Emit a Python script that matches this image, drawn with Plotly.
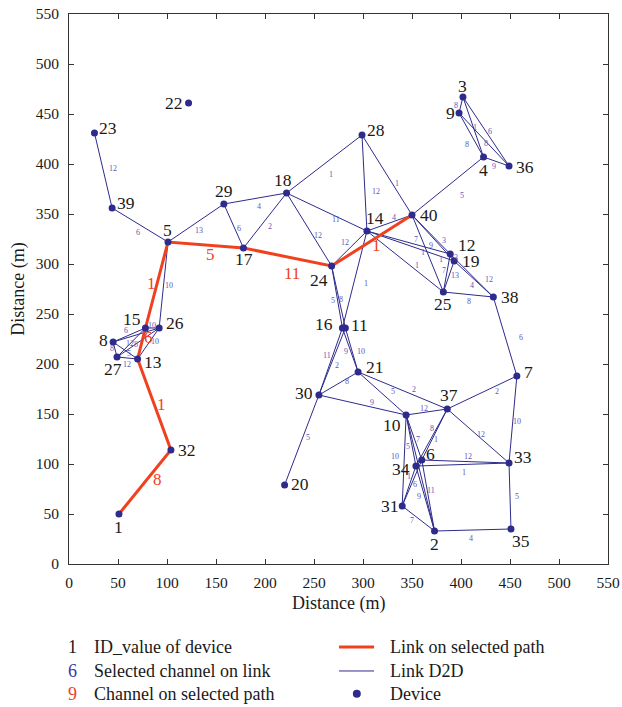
import plotly.graph_objects as go

# ---------------- data ----------------
node_ids = [1, 2, 3, 4, 5, 6, 7, 8, 9, 10, 11, 12, 13, 14, 15, 16, 17, 18, 19, 20,
            21, 22, 23, 24, 25, 26, 27, 28, 29, 30, 31, 32, 33, 34, 35, 36, 37, 38, 39, 40]
node_x = [51, 373, 402, 423, 101, 360, 457, 45, 398, 344, 282, 389, 70, 304, 78, 279, 178, 222, 393, 220,
          295, 122, 26, 268, 382, 92, 49, 299, 158, 255, 340, 104, 449, 354, 451, 449, 386, 433, 44, 350]
node_y = [50, 33, 467, 407, 322, 104, 188, 222, 451, 149, 236, 310, 205, 333, 236, 236, 316, 371, 303, 79,
          192, 461, 431, 298, 272, 236, 207, 429, 360, 169, 58, 114, 101, 98, 35, 398, 155, 267, 356, 349]

# D2D links: source, target, channel
link_src = [23, 39, 5, 29, 29, 17, 18, 18, 18, 28, 28, 14, 24, 40, 14, 14, 14, 40, 40, 40,
            25, 25, 12, 12, 19, 25, 38, 3, 3, 3, 9, 9, 4, 5, 8, 8, 8, 8, 27, 27,
            27, 13, 15, 24, 24, 14, 16, 11, 16, 11, 30, 30, 30, 21, 21, 10, 37, 7, 37, 6,
            34, 33, 2, 31, 10, 10, 10, 37, 37, 10, 6, 34, 6, 34, 34]
link_dst = [39, 5, 29, 17, 18, 18, 28, 14, 24, 14, 40, 40, 14, 4, 12, 19, 25, 12, 19, 25,
            12, 19, 19, 38, 38, 38, 7, 9, 4, 36, 4, 36, 36, 26, 15, 26, 27, 13, 13, 15,
            26, 26, 26, 16, 11, 16, 30, 30, 21, 21, 21, 10, 20, 10, 37, 37, 7, 33, 33, 33,
            33, 35, 35, 2, 31, 34, 6, 6, 34, 2, 2, 2, 31, 31, 6]
link_channel = ["12", "6", "13", "6", "4", "2", "1", "11", "12", "12", "1", "4", "12", "5", "7", "1", "1", "3", "9", "1",
                "7", "13", "3", "12", "4", "8", "6", "8", "1", "6", "8", "8", "9", "10", "6", "12", "8", "5", "12", "",
                "8", "10", "10", "5", "8", "1", "11", "2", "9", "10", "8", "9", "5", "5", "2", "12", "2", "10", "12", "12",
                "1", "5", "4", "7", "10", "5", "7", "8", "1", "", "11", "9", "6", "1", ""]

# selected path and channels on it
path_nodes = [1, 32, 13, 15, 5, 17, 24, 40]
path_channel = ["8", "1", "6", "1", "5", "11", "1"]

# legend texts
legend_left = [("1", "ID_value of device"), ("6", "Selected channel on link"), ("9", "Channel on selected path")]
legend_right = ["Link on selected path", "Link D2D", "Device"]

# axis ticks
tick_vals = list(range(0, 551, 50))

# ---------------- styles ----------------
FONT = "Liberation Serif, Times New Roman, serif"
BLUE = "#2e2b8c"
LBL_BLUE = "#5d58b5"
RED = "#f0401e"
TXT = "#1a1a1a"

# node label shifts in px (x right, y up)
node_label_shift = {
    1: (0, -13), 2: (0, -13), 3: (0, 11), 4: (0, -13), 5: (0, 12), 6: (9, 6), 7: (12, 4),
    8: (-10, 2), 9: (-9, 0), 10: (-14, -10), 11: (14, 3), 12: (17, 9), 13: (15, -3),
    14: (8, 13), 15: (-13, 9), 16: (-18, 4), 17: (1, -11), 18: (-4, 13), 19: (17, 0),
    20: (15, 1), 21: (17, 5), 22: (-15, 0), 23: (14, 5), 24: (-13, -14), 25: (0, -12),
    26: (16, 5), 27: (-4, -12), 28: (14, 5), 29: (0, 13), 30: (-15, 2), 31: (-12, 0),
    32: (16, 0), 33: (14, 6), 34: (-15, -3), 35: (10, -12), 36: (16, -1), 37: (2, 14),
    38: (17, 0), 39: (14, 5), 40: (17, 0),
}

# channel label shifts in px (x right, y down) relative to link midpoint
link_label_shift = {
    (23, 39): (10, -2), (39, 5): (-2, 7), (5, 29): (3, 7), (29, 17): (5, 2), (29, 18): (4, 8),
    (17, 18): (5, 6), (18, 28): (7, 10), (18, 14): (9, 7), (18, 24): (9, 6), (28, 14): (12, 8),
    (28, 40): (10, 8), (14, 40): (5, -6), (24, 14): (-4, -6), (40, 4): (14, 9), (14, 12): (7, -3),
    (14, 19): (12, 6), (14, 25): (12, 4), (40, 12): (13, 6), (40, 19): (-2, 7), (40, 25): (13, 6),
    (25, 12): (-3, -3), (25, 19): (6, -1), (12, 19): (4, 0), (12, 38): (17, 4), (19, 38): (-2, 6),
    (25, 38): (1, 7), (38, 7): (16, 1), (3, 9): (-5, 0), (3, 4): (2, 0), (3, 36): (4, 0),
    (9, 4): (-4, 9), (9, 36): (2, 4), (4, 36): (-2, 5), (5, 26): (5, 0), (8, 15): (-3, -5),
    (8, 26): (-6, 8), (8, 27): (-3, -1), (8, 13): (4, 3), (27, 13): (0, 6), (27, 26): (-2, 2),
    (13, 26): (7, -2), (15, 26): (0, -3), (24, 16): (-4, 3), (24, 11): (2, 2), (14, 16): (11, 4),
    (16, 30): (-4, -6), (11, 30): (5, 4), (16, 21): (-4, 1), (11, 21): (9, 1), (30, 21): (8, -2),
    (30, 10): (9, -3), (30, 20): (6, -3), (21, 10): (11, -2), (21, 37): (11, -1), (10, 37): (-3, -4),
    (37, 7): (15, -1), (7, 33): (4, 2), (37, 33): (3, -2), (6, 33): (3, -5), (34, 33): (2, 8),
    (33, 35): (7, 0), (2, 35): (-2, 8), (31, 2): (-6, 2), (10, 31): (-9, -4), (10, 34): (-3, 6),
    (10, 6): (4, 2), (37, 6): (-3, -6), (37, 34): (4, 2), (6, 2): (3, -5), (34, 2): (-6, -2),
    (6, 31): (3, 1), (34, 31): (0, -10),
}
path_label_shift = [(13, -3), (7, 0), (7, -6), (-5, -2), (5, 9), (4, 16), (5, 5)]

pos = {n: (x, y) for n, x, y in zip(node_ids, node_x, node_y)}

fig = go.Figure()

# blue links
lx, ly = [], []
for a, b in zip(link_src, link_dst):
    lx += [pos[a][0], pos[b][0], None]
    ly += [pos[a][1], pos[b][1], None]
fig.add_trace(go.Scatter(x=lx, y=ly, mode="lines", line=dict(color=BLUE, width=1),
                         hoverinfo="skip", showlegend=False))

# red path
px_ = [pos[n][0] for n in path_nodes]
py_ = [pos[n][1] for n in path_nodes]
fig.add_trace(go.Scatter(x=px_, y=py_, mode="lines", line=dict(color=RED, width=3),
                         hoverinfo="skip", showlegend=False))

# devices
fig.add_trace(go.Scatter(x=node_x, y=node_y, mode="markers",
                         marker=dict(color=BLUE, size=7, line=dict(width=0)),
                         text=[str(n) for n in node_ids], hoverinfo="text", showlegend=False))

ann = []
# node labels
for n, x, y in zip(node_ids, node_x, node_y):
    sx, sy = node_label_shift.get(n, (0, 12))
    ann.append(dict(x=x, y=y, xref="x", yref="y", text=str(n), showarrow=False,
                    xshift=sx, yshift=sy, font=dict(family=FONT, size=17.5, color=TXT)))

# channel labels on links
for a, b, c in zip(link_src, link_dst, link_channel):
    if not c:
        continue
    mx = (pos[a][0] + pos[b][0]) / 2
    my = (pos[a][1] + pos[b][1]) / 2
    dx, dy = link_label_shift.get((a, b), (5, 6))
    ann.append(dict(x=mx, y=my, xref="x", yref="y", text=c, showarrow=False,
                    xshift=dx, yshift=-dy, font=dict(family=FONT, size=8, color=LBL_BLUE)))

# channel labels on path
for i, c in enumerate(path_channel):
    a, b = path_nodes[i], path_nodes[i + 1]
    mx = (pos[a][0] + pos[b][0]) / 2
    my = (pos[a][1] + pos[b][1]) / 2
    dx, dy = path_label_shift[i]
    ann.append(dict(x=mx, y=my, xref="x", yref="y", text=c, showarrow=False,
                    xshift=dx, yshift=-dy, font=dict(family=FONT, size=17, color=RED)))

# axis titles
ann.append(dict(x=0.5, y=-0.072, xref="paper", yref="paper", text="Distance (m)", showarrow=False,
                yanchor="middle", font=dict(family=FONT, size=18, color=TXT)))
ann.append(dict(x=-0.095, y=0.5, xref="paper", yref="paper", text="Distance (m)", showarrow=False,
                textangle=-90, xanchor="center", font=dict(family=FONT, size=18, color=TXT)))

# legend
rows_y = [-0.151, -0.1945, -0.236]
sym_col = [TXT, "#3b36a0", RED]
shapes = []
for i, (sym, txt) in enumerate(legend_left):
    ann.append(dict(x=0.0074, y=rows_y[i], xref="paper", yref="paper", text=sym, showarrow=False,
                    xanchor="center", yanchor="middle", font=dict(family=FONT, size=18, color=sym_col[i])))
    ann.append(dict(x=0.0427, y=rows_y[i], xref="paper", yref="paper", text=txt, showarrow=False,
                    xanchor="left", yanchor="middle", font=dict(family=FONT, size=18, color=TXT)))
for i, txt in enumerate(legend_right):
    ann.append(dict(x=0.592, y=rows_y[i], xref="paper", yref="paper", text=txt, showarrow=False,
                    xanchor="left", yanchor="middle", font=dict(family=FONT, size=18, color=TXT)))
shapes.append(dict(type="line", xref="paper", yref="paper", x0=0.501, x1=0.566,
                   y0=rows_y[0], y1=rows_y[0], line=dict(color=RED, width=3)))
shapes.append(dict(type="line", xref="paper", yref="paper", x0=0.501, x1=0.566,
                   y0=rows_y[1], y1=rows_y[1], line=dict(color=BLUE, width=1)))
shapes.append(dict(type="circle", xref="paper", yref="paper", xsizemode="pixel", ysizemode="pixel",
                   xanchor=0.534, yanchor=rows_y[2], x0=-4, x1=4, y0=-4, y1=4,
                   fillcolor=BLUE, line=dict(width=0)))

axis_common = dict(range=[0, 550], tickvals=tick_vals, ticks="inside", ticklen=5, tickwidth=1,
                   tickcolor="#333", showline=True, linecolor="#333", linewidth=1, mirror="ticks",
                   showgrid=False, zeroline=False, ticklabeloverflow="allow", automargin=False,
                   tickfont=dict(family=FONT, size=15.5, color=TXT))

fig.update_layout(
    width=622, height=707,
    margin=dict(l=69, r=14, t=14, b=143, autoexpand=False),
    paper_bgcolor="white", plot_bgcolor="white",
    xaxis=dict(**axis_common, ticklabelstandoff=4),
    yaxis=dict(**axis_common, ticklabelstandoff=6),
    annotations=ann, shapes=shapes, showlegend=False,
)

# remove the default page margin so the 622x707 figure fills the window exactly
fig.write_html("out.html",
               config={"displayModeBar": False},
               post_script="document.body.style.margin='0';"
                           "document.documentElement.style.overflow='hidden';")
